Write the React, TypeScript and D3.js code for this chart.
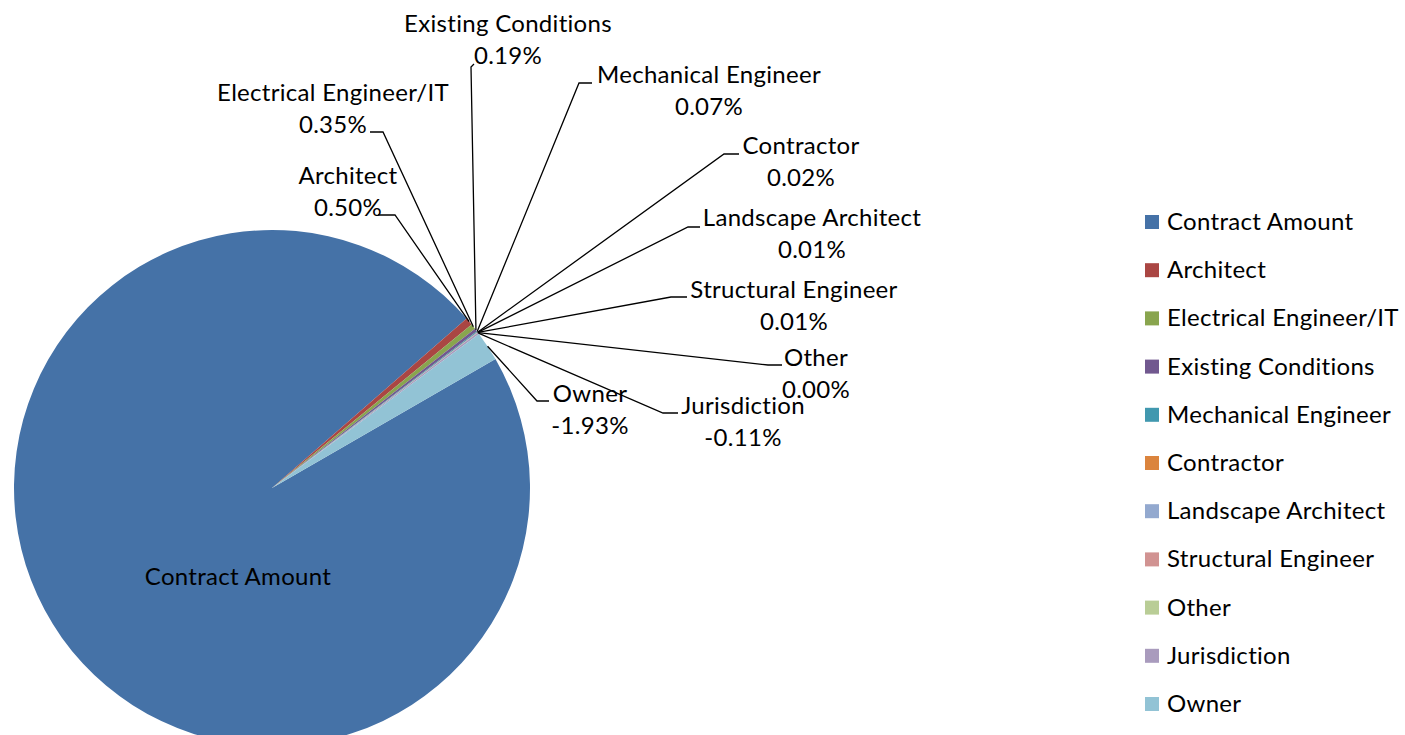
import React from "react";
import * as d3 from "d3";

const categories = [
  "Contract Amount",
  "Architect",
  "Electrical Engineer/IT",
  "Existing Conditions",
  "Mechanical Engineer",
  "Contractor",
  "Landscape Architect",
  "Structural Engineer",
  "Other",
  "Jurisdiction",
  "Owner",
];
const values = [100.89, 0.5, 0.35, 0.19, 0.07, 0.02, 0.01, 0.01, 0.0, -0.11, -1.93];
const colors = [
  "#4572A7", "#AA4643", "#89A54E", "#71588F", "#4198AF", "#DB843D",
  "#93A9CF", "#D19392", "#B9CD96", "#A99BBD", "#92C3D5",
];

// label layout (text block centre x, first baseline y, hook near text, elbow)
const labelLayout: ({ cx: number; y: number; tx: number; ty: number; ex: number; ey: number } | null)[] = [
  null,
  { cx: 348, y: 184, tx: 378, ty: 215, ex: 395, ey: 215 },
  { cx: 333, y: 101, tx: 370, ty: 132, ex: 383, ey: 132 },
  { cx: 508, y: 32, tx: 474, ty: 64, ex: 471, ey: 67 },
  { cx: 709, y: 83, tx: 592, ty: 83, ex: 579, ey: 83 },
  { cx: 801, y: 154, tx: 739, ty: 154, ex: 724, ey: 154 },
  { cx: 812, y: 226, tx: 700, ty: 227, ex: 688, ey: 227 },
  { cx: 794, y: 298, tx: 687, ty: 297, ex: 671, ey: 297 },
  { cx: 816, y: 366, tx: 782, ty: 365, ex: 768, ey: 365 },
  { cx: 743, y: 414, tx: 678, ty: 413, ex: 663, ey: 413 },
  { cx: 590, y: 402, tx: 549, ty: 401, ex: 537, ey: 401 },
];

const W = 1405;
const H = 735;
const CX = 272;
const CY = 488;
const R = 258;
const FONT = "Lato, 'Open Sans', sans-serif";
const FS = 24;
const LS = 0.3;

export default function App() {
  const total = d3.sum(values);
  const pie = d3
    .pie<number>()
    .value((d) => Math.abs(d))
    .sort(null)
    .startAngle((60 * Math.PI) / 180)
    .endAngle((60 * Math.PI) / 180 + 2 * Math.PI);
  const arcs = pie(values);
  const arc = d3.arc<d3.PieArcDatum<number>>().innerRadius(0).outerRadius(R);
  const locale = d3.formatLocale({
    decimal: ".",
    thousands: ",",
    grouping: [3],
    currency: ["$", ""],
    minus: "-",
  });
  const fmt = locale.format(".2%");

  return (
    <svg
      width={W}
      height={H}
      style={{ position: "absolute", left: 0, top: 0 }}
      fontFamily={FONT}
      letterSpacing={LS}
    >
      <rect width={W} height={H} fill="#fff" />
      <g transform={`translate(${CX},${CY})`}>
        {arcs.map((a, i) => (
          <path key={i} d={arc(a) || ""} fill={colors[i]} />
        ))}
      </g>
      {arcs.map((a, i) => {
        const L = labelLayout[i];
        if (!L) return null;
        const mid = (a.startAngle + a.endAngle) / 2;
        const px = CX + Math.sin(mid) * R;
        const py = CY - Math.cos(mid) * R;
        return (
          <polyline
            key={"l" + i}
            points={`${px},${py} ${L.ex},${L.ey} ${L.tx},${L.ty}`}
            fill="none"
            stroke="#000"
            strokeWidth={1.3}
          />
        );
      })}
      {arcs.map((a, i) => {
        const L = labelLayout[i];
        if (!L) return null;
        return (
          <text key={"t" + i} textAnchor="middle" fontSize={FS} fill="#000">
            <tspan x={L.cx} y={L.y}>{categories[i]}</tspan>
            <tspan x={L.cx} y={L.y + 32}>{fmt(values[i] / total)}</tspan>
          </text>
        );
      })}
      <text x={238} y={585} textAnchor="middle" fontSize={FS} fill="#000">
        {categories[0]}
      </text>
      {categories.map((c, i) => {
        const y = 222 + i * 48.2;
        return (
          <g key={"lg" + i}>
            <rect x={1145} y={y - 7} width={14} height={14} fill={colors[i]} />
            <text x={1167} y={y + 8} fontSize={FS} fill="#000">
              {c}
            </text>
          </g>
        );
      })}
    </svg>
  );
}
